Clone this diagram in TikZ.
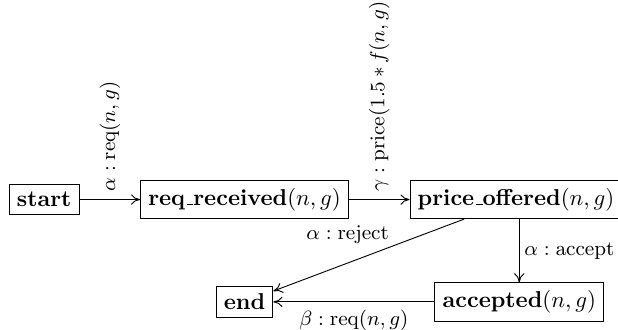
\documentclass[tikz,border=0pt]{standalone}
\usetikzlibrary{positioning,arrows.meta}
% kurzer Unterstrich wie im alten Font
\newcommand{\us}{\leavevmode\kern.06em\vbox{\hrule width.3em height.6pt}}
\begin{document}
\begin{tikzpicture}
  [
    node distance=0.93cm,
    zst/.style={draw, rectangle, font=\bfseries},
    lbl/.style={font=\small},
    uebergang/.style={-{To[length=4pt,width=4.5pt]}}
  ]

  % Rahmen
  \useasboundingbox (-0.677,-2.0) rectangle (8.80,3.06);

  \node[zst] (start) at (0,0) {start};
  \node[zst, right=of start] (received) {req\us received$(n,g)$};
  \node[zst, right=of received] (offered) {price\us offered$(n,g)$};
  \node[zst, below=0.97cm of offered, xshift=0.05cm] (accepted) {accepted$(n,g)$};
  \node[zst] (end) at (received |- accepted) {end};

  \draw[uebergang] (start) -- node[lbl, midway, rotate=90, anchor=west] {$\alpha : \mathrm{req}(n,g)$} (received);
  \draw[uebergang] (received) -- node[lbl, midway, rotate=90, anchor=west] {$\gamma : \mathrm{price}(1.5\,{*}\,f(n,g))$} (offered);
  \draw[uebergang] (offered) -- node[lbl, pos=0.38, above left, inner sep=1pt] {$\alpha : \mathrm{reject}$} (end);
  \draw[uebergang] (accepted |- offered.south) -- node[lbl, right, inner sep=2pt] {$\alpha : \mathrm{accept}$} (accepted);
  \draw[uebergang] (accepted) -- node[lbl, below] {$\beta : \mathrm{req}(n,g)$} (end);
\end{tikzpicture}
\end{document}
